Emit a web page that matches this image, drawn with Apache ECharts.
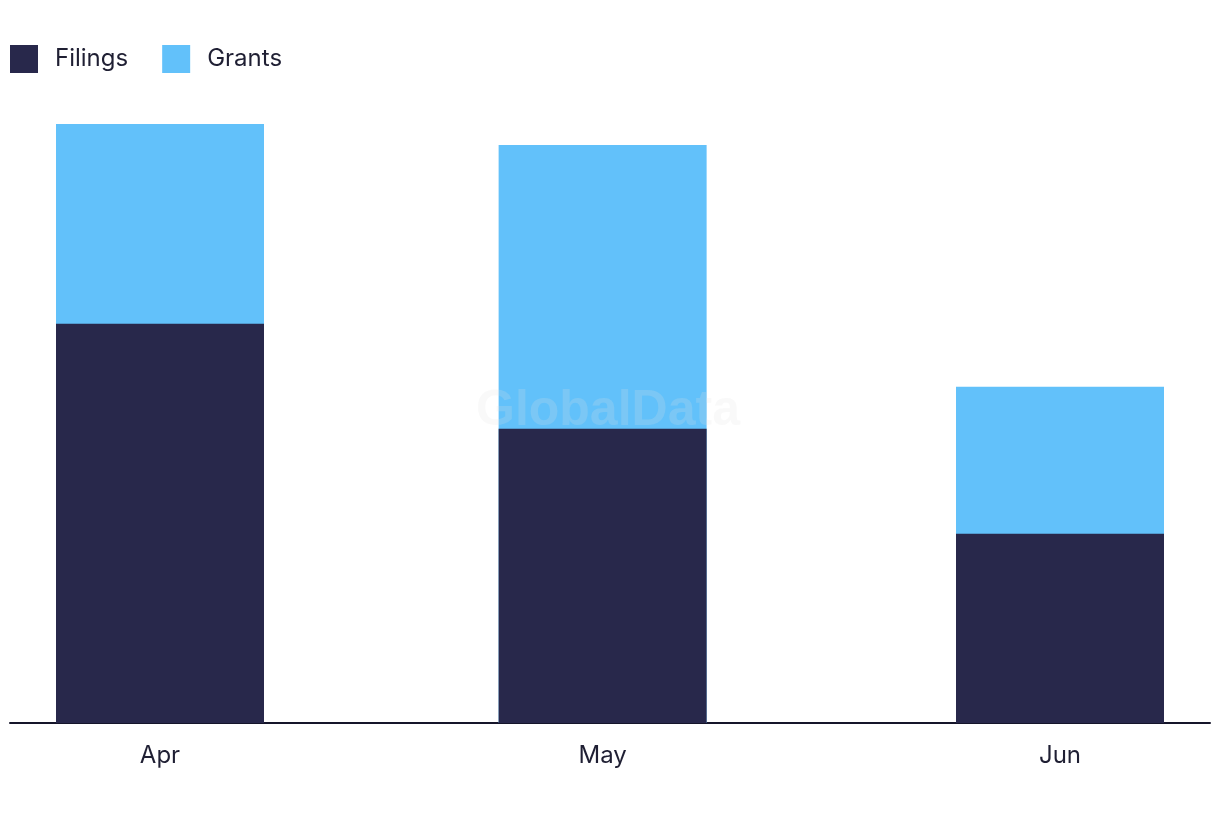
<!DOCTYPE html>
<html>
<head>
<meta charset="utf-8">
<script src="https://cdn.jsdelivr.net/npm/echarts@6/dist/echarts.min.js"></script>
<style>html,body{margin:0;padding:0;background:#fff}#c{width:1220px;height:822px}</style>
</head>
<body>
<div id="c"></div>
<script>
const categories = ['Apr', 'May', 'Jun'];
const monthStarts = ['2024-04-01', '2024-05-01', '2024-06-01'];
const filings = [38, 28, 18];
const grants = [19, 27, 14];

const DAY = 86400000;
const ts = monthStarts.map(d => { const p = d.split('-'); return Date.UTC(+p[0], +p[1] - 1, +p[2]); });
const dayPos = ts.map(t => Math.round((t - ts[0]) / DAY));
const span = dayPos[dayPos.length - 1] - dayPos[0];
const padDays = 150 / (900 / span);
const totals = filings.map((f, i) => f + grants[i]);

const chart = echarts.init(document.getElementById('c'));
const font = 'Inter, "Noto Sans", sans-serif';
chart.setOption({
  animation: false,
  backgroundColor: '#fff',
  textStyle: { fontFamily: font },
  legend: {
    left: 10, top: 45, padding: 0,
    itemWidth: 28, itemHeight: 28, itemGap: 34,
    icon: 'rect',
    textStyle: { fontSize: 24, color: '#1f1f33', fontFamily: font, padding: [0, 0, 0, 12] },
    data: ['Filings', 'Grants']
  },
  grid: { left: 10, right: 10, top: 124, bottom: 99, containLabel: false },
  xAxis: {
    type: 'value',
    min: dayPos[0] - padDays,
    max: dayPos[dayPos.length - 1] + padDays,
    axisLine: { show: true, onZero: false, lineStyle: { color: '#15152a', width: 2 } },
    axisTick: { show: false },
    splitLine: { show: false },
    axisLabel: {
      customValues: dayPos,
      formatter: function (v) {
        for (let i = 0; i < dayPos.length; i++) if (Math.abs(dayPos[i] - v) < 0.01) return categories[i];
        return '';
      },
      fontSize: 24, color: '#1f1f33', margin: 21, fontFamily: font
    }
  },
  yAxis: { type: 'value', min: 0, max: 57, show: false, splitLine: { show: false } },
  series: [
    { name: 'Filings', type: 'bar', barWidth: 208, barGap: '-100%', z: 3, itemStyle: { color: '#28284b' },
      data: dayPos.map((t, i) => [t, filings[i]]) },
    { name: 'Grants', type: 'bar', barWidth: 208, barGap: '-100%', z: 2, itemStyle: { color: '#62c1fa' },
      data: dayPos.map((t, i) => [t, totals[i]]) }
  ],
  graphic: [{
    type: 'text', left: 476, top: 386, z: 100, silent: true,
    style: { text: 'GlobalData', font: 'bold 50px "Liberation Sans", Arial, sans-serif', fill: 'rgba(225,225,225,0.2)' }
  }]
});
</script>
</body>
</html>
